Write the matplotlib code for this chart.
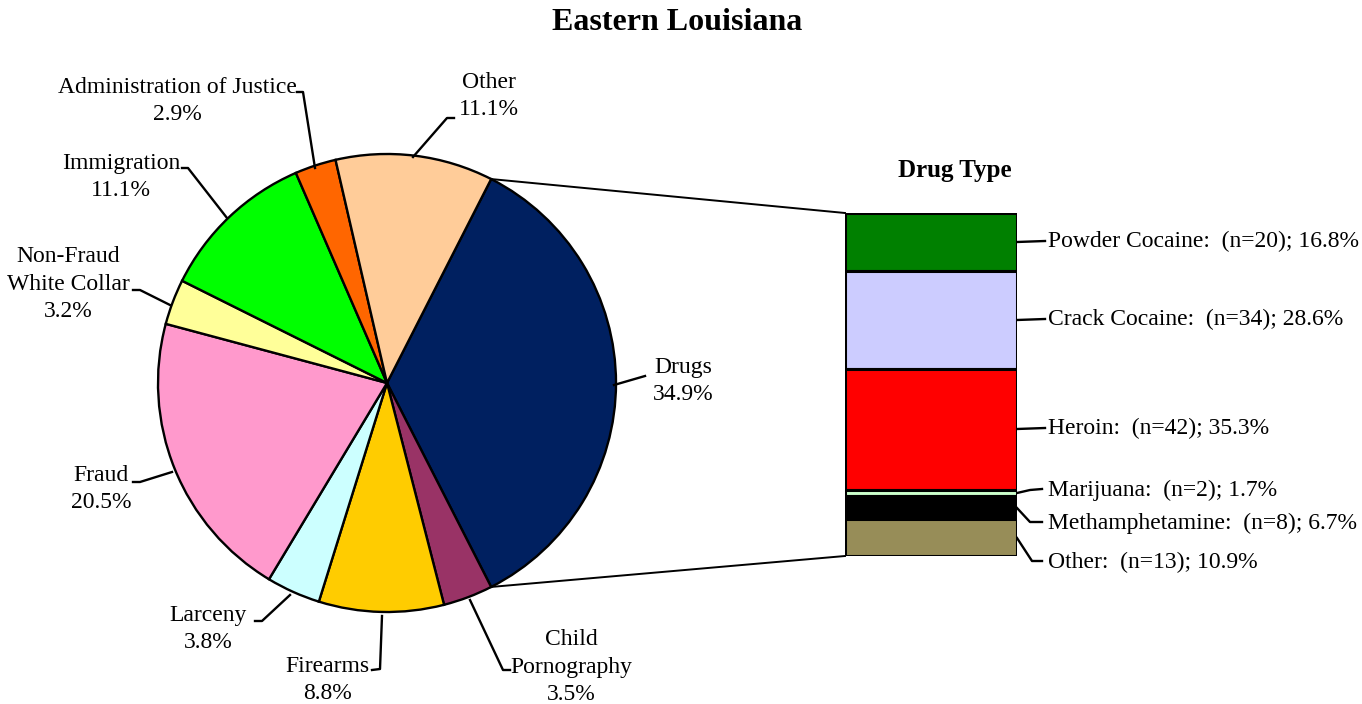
import numpy as np
import matplotlib
matplotlib.use("Agg")
import matplotlib.pyplot as plt

# ---------------- data ----------------
categories = ['Drugs', 'Child\nPornography', 'Firearms', 'Larceny', 'Fraud',
              'Non-Fraud\nWhite Collar', 'Immigration', 'Administration of Justice', 'Other']
shares = [34.9, 3.5, 8.8, 3.8, 20.5, 3.2, 11.1, 2.9, 11.1]
pie_colors = ['#002060', '#993366', '#FFCC00', '#CCFFFF', '#FF99CC',
              '#FFFF99', '#00FF00', '#FF6600', '#FFCC99']

drug_types = ['Powder Cocaine', 'Crack Cocaine', 'Heroin', 'Marijuana', 'Methamphetamine', 'Other']
drug_counts = [20, 34, 42, 2, 8, 13]
drug_shares = [16.8, 28.6, 35.3, 1.7, 6.7, 10.9]
drug_colors = ['#008000', '#CCCCFF', '#FF0000', '#CCFFCC', '#000000', '#978D58']

title = 'Eastern Louisiana'
bar_title = 'Drug Type'

# ---------------- layout ----------------
W, H = 1362, 704
plt.rcParams['font.family'] = ['Liberation Serif', 'DejaVu Serif']
FS = 17
LS = 1.38

fig = plt.figure(figsize=(W / 100, H / 100), dpi=100)
ax = fig.add_axes([0, 0, 1, 1])

def P(x, y):
    """pixel (top-left origin) -> data coords"""
    return x, H - y

cx, cy = P(387, 383)
R = 229
start = 360 * shares[0] / sum(shares) / 2
ax.pie(shares, colors=pie_colors, startangle=start, counterclock=False,
       center=(cx, cy), radius=R,
       wedgeprops=dict(edgecolor='black', linewidth=1.7))
ax.set_xlim(0, W)
ax.set_ylim(0, H)
ax.set_aspect('auto')
ax.axis('off')

# ---------------- bar of drug types ----------------
bx0, bx1, by0, by1 = 845, 1017, 213, 556
ax2 = fig.add_axes([bx0 / W, (H - by1) / H, (bx1 - bx0) / W, (by1 - by0) / H])
bottoms = np.concatenate([[0], np.cumsum(drug_shares)[:-1]])
ax2.bar(0, drug_shares, bottom=bottoms, width=1, color=drug_colors,
        edgecolor='black', linewidth=2.2)
ax2.set_xlim(-0.5, 0.5)
ax2.set_ylim(sum(drug_shares), 0)
ax2.axis('off')

# connector lines from pie to bar
a1 = np.deg2rad(start)
a2 = np.deg2rad(start - 360 * shares[0] / sum(shares))
ax.plot([cx + R * np.cos(a1), bx0], [cy + R * np.sin(a1), H - by0], color='black', lw=1.4)
ax.plot([cx + R * np.cos(a2), bx0], [cy + R * np.sin(a2), H - by1], color='black', lw=1.4)

# ---------------- title ----------------
ax.text(*P(677, 22), title, ha='center', va='center', fontsize=23, fontweight='bold')
ax.text(*P(955, 171), bar_title, ha='center', va='center', fontsize=18, fontweight='bold')

# ---------------- pie labels ----------------
label_pos = [(683, 381), (571, 667), (327, 680), (208, 629), (101, 489),
             (68, 284), (121, 177), (177, 101), (489, 96)]
leaders = [
    [(614, 385), (645, 376)],
    [(470, 600), (503, 670), (510, 670)],
    [(382, 616), (380, 669), (372, 670)],
    [(290, 595), (262, 621), (255, 621)],
    [(172, 472), (140, 482), (133, 482)],
    [(170, 305), (140, 290), (133, 290)],
    [(227, 218), (188, 168), (182, 168)],
    [(315, 168), (303, 92), (297, 92)],
    [(413, 157), (447, 118), (454, 118)],
]
for cat, sh, pos, ld in zip(categories, shares, label_pos, leaders):
    ax.text(*P(*pos), f'{cat}\n{sh:.1f}%', ha='center', va='center',
            fontsize=FS, linespacing=LS)
    xs, ys = zip(*[P(*p) for p in ld])
    ax.plot(xs, ys, color='black', lw=1.7)

# ---------------- bar labels ----------------
bar_label_y = [241, 319, 428, 490, 523, 562]
bar_leaders = [
    [(1017, 242), (1045, 241)],
    [(1017, 320), (1045, 319)],
    [(1017, 429), (1045, 428)],
    [(1017, 493), (1030, 490), (1042, 489)],
    [(1017, 508), (1030, 522), (1042, 522)],
    [(1017, 538), (1032, 561), (1042, 561)],
]
for name, n, sh, y, ld in zip(drug_types, drug_counts, drug_shares, bar_label_y, bar_leaders):
    ax.text(*P(1048, y), f'{name}:  (n={n}); {sh:.1f}%', ha='left', va='center', fontsize=FS)
    xs, ys = zip(*[P(*p) for p in ld])
    ax.plot(xs, ys, color='black', lw=1.7)

fig.savefig('out.png', dpi=100)
